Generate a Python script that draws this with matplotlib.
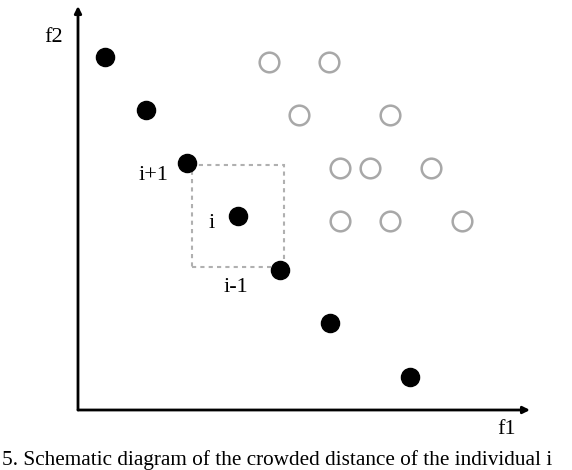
import matplotlib.pyplot as plt
from matplotlib.patches import Rectangle

plt.rcParams['font.family'] = ['Liberation Serif', 'DejaVu Serif']

# pixel-like units measured from the origin of the axes
front_x = [27, 68, 109, 160, 202, 252, 332]
front_y = [353, 300, 247, 194, 140, 87, 33]

other_x = [191, 251, 221, 312, 262, 292, 353, 262, 312, 384]
other_y = [348, 348, 295, 295, 242, 242, 242, 189, 189, 189]

point_labels = {2: "i+1", 3: "i", 4: "i-1"}
caption = "5. Schematic diagram of the crowded distance of the individual i"

W, H = 572, 470
fig = plt.figure(figsize=(W / 100, H / 100), dpi=100)
ox, oy = 78, 410
ax = fig.add_axes([ox / W, (H - oy) / H, (530 - ox) / W, (oy - 6) / H])
ax.set_xlim(0, 530 - ox)
ax.set_ylim(0, oy - 6)
ax.axis("off")

# axes with arrows
for tip in [(1, 0), (0, 1)]:
    ax.annotate("", xy=tip, xytext=(0, 0), xycoords="axes fraction",
                arrowprops=dict(arrowstyle="-|>", lw=2, color="black",
                                mutation_scale=10, shrinkA=0, shrinkB=0))

# crowding box between i+1 and i-1
x0, y0 = front_x[2], front_y[2]
x1, y1 = front_x[4], front_y[4]
ax.add_patch(Rectangle((x0 + 5, y1 + 3), x1 - x0 - 1, y0 - y1 - 5, fill=False,
                       ls=(0, (2, 2)), lw=1.5, ec="#b0b0b0", zorder=1))

ax.scatter(other_x, other_y, s=200, facecolors="white", edgecolors="#a8a8a8",
           linewidths=1.8, zorder=2, clip_on=False)
ax.scatter(front_x, front_y, s=170, color="black", zorder=3, clip_on=False)

offsets = {2: (-33, -13), 3: (-26, -7), 4: (-44, -17)}
for i, lab in point_labels.items():
    dx, dy = offsets[i]
    ax.text(front_x[i] + dx, front_y[i] + dy, lab, fontsize=16, ha="center",
            va="center")

fig.text(54 / W, 1 - 38 / H, "f2", fontsize=16, ha="center", va="center")
fig.text(507 / W, 1 - 430 / H, "f1", fontsize=16, ha="center", va="center")
fig.text(2 / W, 1 - 465 / H, caption, fontsize=15.3, ha="left", va="baseline")

fig.savefig("out.png", dpi=100)
